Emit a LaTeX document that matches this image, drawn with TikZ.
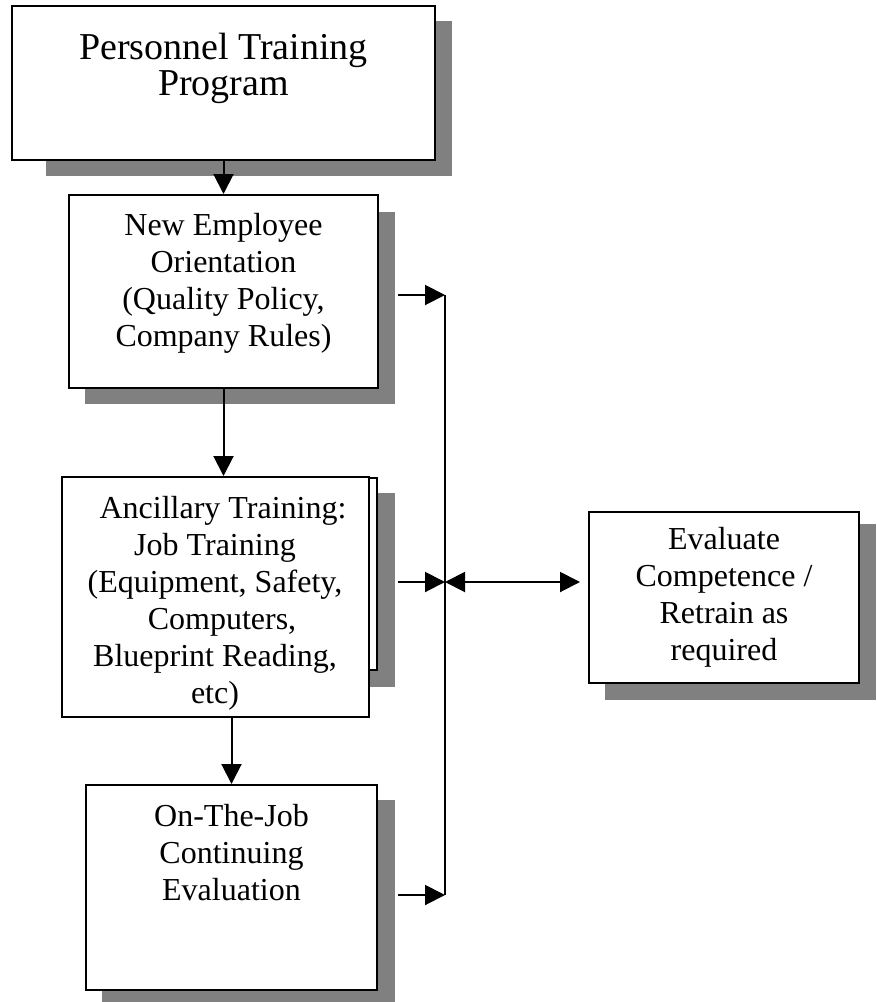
\documentclass[tikz,border=0pt]{standalone}
\usepackage{fontspec}
\setmainfont{Liberation Serif}
\usetikzlibrary{arrows.meta}
\definecolor{shadowgray}{HTML}{808080}
\begin{document}
\begin{tikzpicture}[x=1pt,y=-1pt,
  box/.style={draw=black,line width=2pt,fill=white,rectangle,inner sep=0pt},
  shadowfill/.style={fill=shadowgray},
  txt/.style={anchor=north,align=center,inner sep=0pt,font=\fontsize{32}{37}\selectfont},
  bigtxt/.style={txt,font=\fontsize{38}{36}\selectfont},
  arr/.style={line width=2pt,-{Triangle[length=20pt,width=20pt]}},
  darr/.style={line width=2pt,{Triangle[length=20pt,width=20pt]}-{Triangle[length=20pt,width=20pt]}},
  conn/.style={line width=2pt}
]
\useasboundingbox (0,0) rectangle (877,1002);
% shadows
\fill[shadowfill] (46,21) rectangle (452,176);
\fill[shadowfill] (85,212) rectangle (395,404);
\fill[shadowfill] (88,493) rectangle (395,687);
\fill[shadowfill] (102,800) rectangle (395,1002);
\fill[shadowfill] (605,524) rectangle (876,700);
% boxes
\node[box,minimum width=423pt,minimum height=154pt] (top) at (223.5,83) {};
\node[box,minimum width=309pt,minimum height=193pt] (orient) at (223.5,291.5) {};
\node[box,minimum width=306pt,minimum height=192pt] (ancback) at (224,574) {};
\node[box,minimum width=307pt,minimum height=240pt] (anc) at (215.5,597) {};
\node[box,minimum width=291pt,minimum height=205pt] (ojt) at (231.5,887.5) {};
\node[box,minimum width=270pt,minimum height=171pt] (eval) at (724,597.5) {};
% texts
\node[bigtxt] (ttop) at (223.5,33) {Personnel Training\\Program};
\node[txt] (torient) at (223.5,213) {New Employee\\Orientation\\(Quality Policy,\\Company Rules)};
\node[txt] (tanc) at (215,496) {\hspace*{16pt}Ancillary Training:\\Job Training\\(Equipment, Safety,\\\hspace*{14pt}Computers,\\Blueprint Reading,\\etc)};
\node[txt] (tojt) at (231.5,804) {On-The-Job\\Continuing\\Evaluation};
\node[txt] (teval) at (724,527) {Evaluate\\Competence /\\Retrain as\\required};
% bus
\coordinate (bustop) at (445,295);
\coordinate (busmid) at (445,582);
\coordinate (busbot) at (445,895);
\coordinate (evalin) at (580,582);
\draw[conn] (bustop) -- (busbot);
% connectors
\draw[arr] (top) -- (orient);
\draw[arr] (orient.south) -- (orient.south |- anc.north);
\draw[arr] (anc.south -| ojt.north) -- (ojt.north);
\draw[arr] ([xshift=19pt]orient.east |- bustop) -- (bustop);
\draw[arr] ([xshift=28pt]anc.east |- busmid) -- (busmid);
\draw[arr] ([xshift=20pt]ojt.east |- busbot) -- (busbot);
\draw[darr] (busmid) -- (evalin);
\end{tikzpicture}
\end{document}
